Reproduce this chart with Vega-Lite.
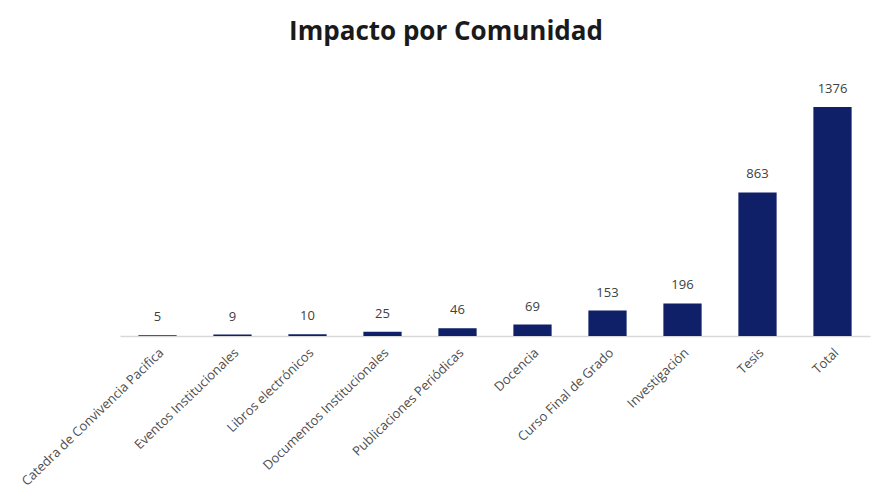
{
  "$schema": "https://vega.github.io/schema/vega-lite/v6.json",
  "width": 750,
  "height": 229,
  "autosize": "none",
  "padding": {"left": 120, "top": 107, "right": 15, "bottom": 163},
  "background": "white",
  "title": {
    "text": "Impacto por Comunidad",
    "font": "Open Sans",
    "fontSize": 26,
    "fontWeight": "bold",
    "color": "#1a1a1a",
    "anchor": "middle",
    "dx": -49,
    "offset": 38
  },
  "data": {
    "values": [
      {"cat": "Catedra de Convivencia Pacifica", "val": 5},
      {"cat": "Eventos Institucionales", "val": 9},
      {"cat": "Libros electrónicos", "val": 10},
      {"cat": "Documentos Institucionales", "val": 25},
      {"cat": "Publicaciones Periódicas", "val": 46},
      {"cat": "Docencia", "val": 69},
      {"cat": "Curso Final de Grado", "val": 153},
      {"cat": "Investigación", "val": 196},
      {"cat": "Tesis", "val": 863},
      {"cat": "Total", "val": 1376}
    ]
  },
  "encoding": {
    "x": {
      "field": "cat",
      "type": "nominal",
      "sort": null,
      "scale": {"paddingInner": 0.49, "paddingOuter": 0.245},
      "axis": {
        "title": null,
        "labelAngle": -44,
        "labelFont": "Open Sans",
        "labelFontSize": 13,
        "labelColor": "#4d4d4d",
        "ticks": false,
        "labelPadding": 10,
        "domainColor": "#d9d9d9",
        "domainWidth": 1.5,
        "labelLimit": 300
      }
    },
    "y": {
      "field": "val",
      "type": "quantitative",
      "scale": {"domain": [0, 1376], "nice": false},
      "axis": null
    }
  },
  "layer": [
    {"mark": {"type": "bar", "color": "#0f2068"}},
    {
      "mark": {"type": "text", "dy": -11, "font": "Open Sans", "fontSize": 13, "color": "#404040", "baseline": "bottom"},
      "encoding": {"text": {"field": "val", "type": "quantitative"}}
    }
  ],
  "config": {"view": {"stroke": null}}
}
